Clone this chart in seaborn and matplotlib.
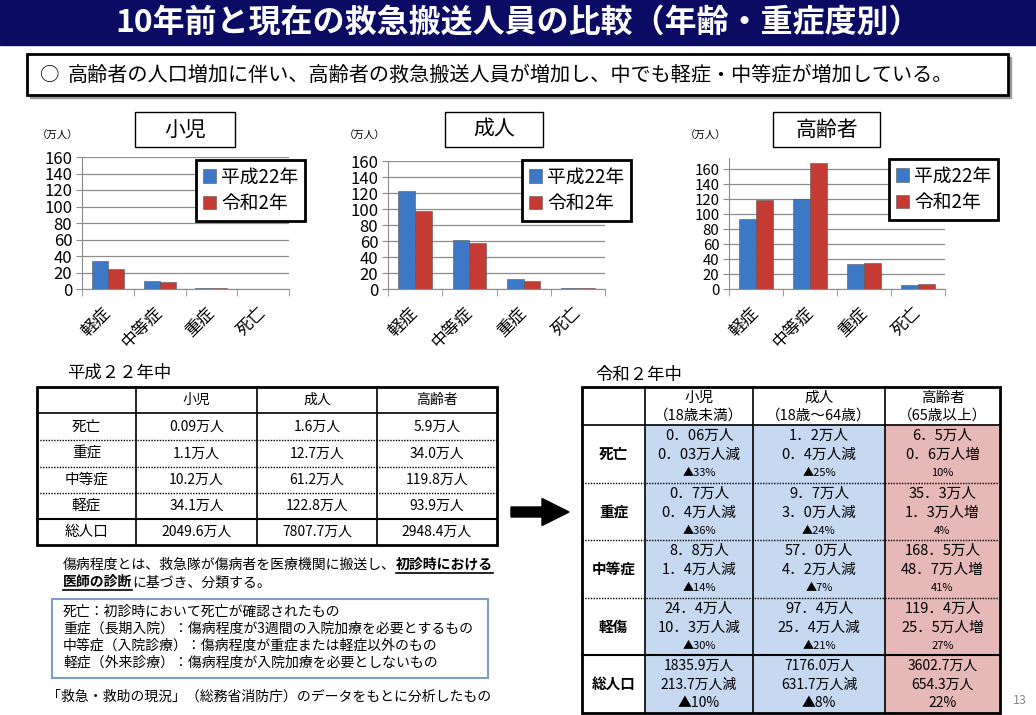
import numpy as np
import pandas as pd
import matplotlib
matplotlib.use("Agg")
import matplotlib.pyplot as plt
import matplotlib.patches as patches
import seaborn as sns

# ---- data ----
severity = ["軽症", "中等症", "重症", "死亡"]
years = ["平成22年", "令和2年"]
group_titles = ["小児", "成人", "高齢者"]
child_h22 = [34.1, 10.2, 1.1, 0.09]
child_r2 = [24.4, 8.8, 0.7, 0.06]
adult_h22 = [122.8, 61.2, 12.7, 1.6]
adult_r2 = [97.4, 57.0, 9.7, 1.2]
elder_h22 = [93.9, 119.8, 34.0, 5.9]
elder_r2 = [119.4, 168.5, 35.3, 6.5]
y_ticks = [0, 20, 40, 60, 80, 100, 120, 140, 160]

h22_rows = ["死亡", "重症", "中等症", "軽症", "総人口"]
h22_child = ["0.09万人", "1.1万人", "10.2万人", "34.1万人", "2049.6万人"]
h22_adult = ["1.6万人", "12.7万人", "61.2万人", "122.8万人", "7807.7万人"]
h22_elder = ["5.9万人", "34.0万人", "119.8万人", "93.9万人", "2948.4万人"]

r2_rows = ["死亡", "重症", "中等症", "軽傷", "総人口"]
r2_heads = ["小児\n（18歳未満）", "成人\n（18歳～64歳）", "高齢者\n（65歳以上）"]
r2_child = [("0．06万人", "0．03万人減", "▲33%"), ("0．7万人", "0．4万人減", "▲36%"),
            ("8．8万人", "1．4万人減", "▲14%"), ("24．4万人", "10．3万人減", "▲30%"),
            ("1835.9万人", "213.7万人減", "▲10%")]
r2_adult = [("1．2万人", "0．4万人減", "▲25%"), ("9．7万人", "3．0万人減", "▲24%"),
            ("57．0万人", "4．2万人減", "▲7%"), ("97．4万人", "25．4万人減", "▲21%"),
            ("7176.0万人", "631.7万人減", "▲8%")]
r2_elder = [("6．5万人", "0．6万人増", "10%"), ("35．3万人", "1．3万人増", "4%"),
            ("168．5万人", "48．7万人増", "41%"), ("119．4万人", "25．5万人増", "27%"),
            ("3602.7万人", "654.3万人", "22%")]

title = "10年前と現在の救急搬送人員の比較（年齢・重症度別）"
summary = "高齢者の人口増加に伴い、高齢者の救急搬送人員が増加し、中でも軽症・中等症が増加している。"
definitions = ["死亡：初診時において死亡が確認されたもの",
               "重症（長期入院）：傷病程度が3週間の入院加療を必要とするもの",
               "中等症（入院診療）：傷病程度が重症または軽症以外のもの",
               "軽症（外来診療）：傷病程度が入院加療を必要としないもの"]
source = "「救急・救助の現況」（総務省消防庁）のデータをもとに分析したもの"

BLUE = "#3d78c6"
RED = "#c63a34"
plt.rcParams['font.family'] = ['Noto Sans CJK JP', 'DejaVu Sans']

W, H = 1036, 715
fig = plt.figure(figsize=(W / 100, H / 100), dpi=100)
bg = fig.add_axes([0, 0, 1, 1])
bg.set_xlim(0, W)
bg.set_ylim(H, 0)
bg.axis('off')

# title bar and summary box
bg.add_patch(patches.Rectangle((0, 0), W, 45, color="#0b0b63"))
bg.text(518, 23, title, color="white", fontsize=23, fontweight="bold", ha="center", va="center")
bg.add_patch(patches.Rectangle((30, 57), 981, 41, color="#9a9a9a"))
bg.add_patch(patches.Rectangle((27, 54), 981, 41, fc="white", ec="black", lw=2))
bg.text(40, 75, "○", fontsize=14, va="center")
bg.text(68, 75, summary, fontsize=14.5, va="center")

# ---- bar charts ----
charts = [
    dict(h22=child_h22, r2=child_r2, l=82, r=289, t=157, b=289, top=160, fs=12,
         unit=(37, 136), box=(135, 112, 100, 35), leg=(196, 160)),
    dict(h22=adult_h22, r2=adult_r2, l=388, r=605, t=161, b=289, top=160, fs=12,
         unit=(344, 136), box=(445, 112, 98, 35), leg=(522, 160)),
    dict(h22=elder_h22, r2=elder_r2, l=729, r=945, t=158, b=289, top=175, fs=10.8,
         unit=(685, 136), box=(773, 112, 107, 35), leg=(889, 159)),
]
for name, c in zip(group_titles, charts):
    df = pd.DataFrame({"重症度": severity * 2,
                       "年": [years[0]] * 4 + [years[1]] * 4,
                       "人数": c["h22"] + c["r2"]})
    ax = fig.add_axes([c["l"] / W, 1 - c["b"] / H, (c["r"] - c["l"]) / W, (c["b"] - c["t"]) / H])
    sns.barplot(data=df, x="重症度", y="人数", hue="年", palette=[BLUE, RED], width=0.62,
                saturation=1, edgecolor="#555555", linewidth=0.4, ax=ax)
    ax.set_ylim(0, c["top"])
    ax.set_xlim(-0.5, 3.5)
    ax.set_yticks(y_ticks)
    ax.tick_params(axis="y", labelsize=c["fs"], length=4, color="#8c8c8c", pad=3)
    ax.set_xticks(range(4))
    ax.set_xticklabels(severity, rotation=45, ha="right", va="center",
                       rotation_mode="anchor", fontsize=12)
    ax.tick_params(axis="x", which="major", length=0, pad=15)
    ax.set_xticks(np.arange(-0.5, 4, 1), minor=True)
    ax.tick_params(axis="x", which="minor", length=5, color="#8c8c8c")
    ax.yaxis.grid(True, color="#8c8c8c", lw=0.9)
    ax.set_axisbelow(True)
    for s in ["top", "right"]:
        ax.spines[s].set_visible(False)
    for s in ["left", "bottom"]:
        ax.spines[s].set_color("#8c8c8c")
    ax.set_xlabel("")
    ax.set_ylabel("")
    hs, ls = ax.get_legend_handles_labels()
    leg = ax.legend(hs, ls, loc="upper left",
                    bbox_to_anchor=(c["leg"][0] / W, 1 - c["leg"][1] / H),
                    bbox_transform=fig.transFigure, fancybox=False, edgecolor="black",
                    framealpha=1, fontsize=13.5, handlelength=0.7, handleheight=0.7,
                    handletextpad=0.3, labelspacing=0.3, borderpad=0.35, borderaxespad=0)
    leg.get_frame().set_linewidth(2)
    bx, by, bw, bh = c["box"]
    bg.add_patch(patches.Rectangle((bx, by), bw, bh, fc="white", ec="black", lw=1))
    bg.text(bx + bw / 2, by + bh / 2, name, fontsize=15, ha="center", va="center")
    bg.text(c["unit"][0], c["unit"][1], "（万人）", fontsize=7.5, va="center")

# ---- H22 table ----
bg.text(67, 373, "平成２２年中", fontsize=12.5, va="center")
xs = [37, 136, 257, 377, 497]
ys = [387, 413, 440, 467, 493, 519, 545]
for x in xs[1:-1]:
    bg.plot([x, x], [ys[0], ys[-1]], color="black", lw=1.2)
bg.plot([xs[0], xs[-1]], [ys[1], ys[1]], color="black", lw=1.2)
for y in ys[2:5]:
    bg.plot([xs[0], xs[-1]], [y, y], color="black", lw=1, ls=(0, (1, 1)))
bg.plot([xs[0], xs[-1]], [ys[5], ys[5]], color="black", lw=1.5)
bg.add_patch(patches.Rectangle((xs[0], ys[0]), xs[-1] - xs[0], ys[-1] - ys[0], fc="none", ec="black", lw=2))
for j, head in enumerate(group_titles):
    bg.text((xs[j + 1] + xs[j + 2]) / 2, (ys[0] + ys[1]) / 2, head, fontsize=10, ha="center", va="center")
for i, lab in enumerate(h22_rows):
    yc = (ys[i + 1] + ys[i + 2]) / 2
    bg.text((xs[0] + xs[1]) / 2, yc, lab, fontsize=10.5, ha="center", va="center")
    for j, col in enumerate([h22_child, h22_adult, h22_elder]):
        bg.text((xs[j + 1] + xs[j + 2]) / 2, yc, col[i], fontsize=10, ha="center", va="center")

# arrow
bg.add_patch(patches.FancyArrow(511, 512, 58, 0, width=10, head_width=27, head_length=27,
                                length_includes_head=True, color="black"))

# ---- R2 table ----
bg.text(595, 375, "令和２年中", fontsize=12.5, va="center")
xs = [582, 645, 753, 885, 1000]
ys = [387, 425, 483, 540, 598, 655, 713]
for j in range(3):
    fill = "#e6b8b7" if j == 2 else "#c6d9f0"
    bg.add_patch(patches.Rectangle((xs[j + 1], ys[1]), xs[j + 2] - xs[j + 1], ys[-1] - ys[1], color=fill))
for x in xs[1:-1]:
    bg.plot([x, x], [ys[0], ys[-1]], color="black", lw=1.2)
bg.plot([xs[0], xs[-1]], [ys[1], ys[1]], color="black", lw=1.2)
for y in ys[2:5]:
    bg.plot([xs[0], xs[-1]], [y, y], color="black", lw=1, ls=(0, (1, 1)))
bg.plot([xs[0], xs[-1]], [ys[5], ys[5]], color="black", lw=1.5)
bg.add_patch(patches.Rectangle((xs[0], ys[0]), xs[-1] - xs[0], ys[-1] - ys[0], fc="none", ec="black", lw=2))
for j, head in enumerate(r2_heads):
    top, sub = head.split("\n")
    xc = (xs[j + 1] + xs[j + 2]) / 2
    bg.text(xc, 398, top, fontsize=10.5, ha="center", va="center")
    bg.text(xc, 416, sub, fontsize=10.5, ha="center", va="center")
for i, lab in enumerate(r2_rows):
    y0 = ys[i + 1]
    bg.text((xs[0] + xs[1]) / 2, y0 + 29, lab, fontsize=10.5, fontweight="bold", ha="center", va="center")
    last = i == len(r2_rows) - 1
    for j, col in enumerate([r2_child, r2_adult, r2_elder]):
        xc = (xs[j + 1] + xs[j + 2]) / 2
        a, b, p = col[i]
        bg.text(xc, y0 + 11, a, fontsize=10 if last else 10.5, ha="center", va="center")
        bg.text(xc, y0 + 30, b, fontsize=10 if last else 10.5, ha="center", va="center")
        bg.text(xc, y0 + 48, p, fontsize=10 if last else 8, ha="center", va="center")

# ---- notes ----
renderer = fig.canvas.get_renderer()


def run(x, y, s, bold=False):
    t = bg.text(x, y, s, fontsize=10, va="center", ha="left",
                fontweight="bold" if bold else "normal")
    w = t.get_window_extent(renderer=renderer).width
    if bold:
        bg.plot([x, x + w], [y + 8, y + 8], color="black", lw=1.2)
    return x + w


x = run(63, 565, "傷病程度とは、救急隊が傷病者を医療機関に搬送し、")
run(x, 565, "初診時における", bold=True)
x = run(63, 582, "医師の診断", bold=True)
run(x, 582, "に基づき、分類する。")

bg.add_patch(patches.Rectangle((52, 599), 436, 79, fc="none", ec="#7f9ccb", lw=1.5))
for k, line in enumerate(definitions):
    bg.text(63, 612 + k * 17, line, fontsize=10, va="center")
bg.text(47, 697, source, fontsize=10, va="center")
bg.text(1020, 700, "13", color="#888888", fontsize=9, ha="center", va="center")

fig.savefig("out.png", dpi=100)
